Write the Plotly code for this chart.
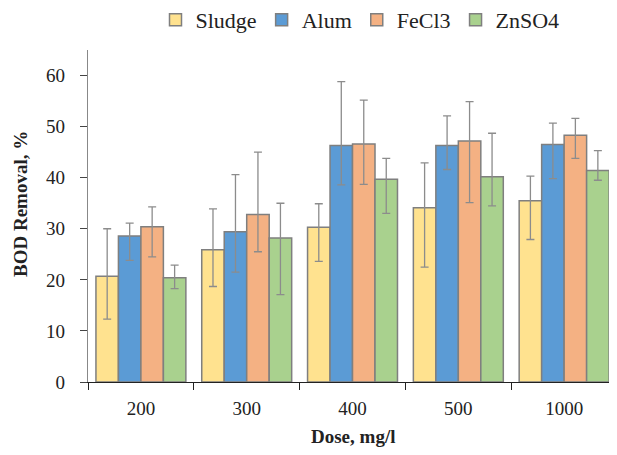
import plotly.graph_objects as go

categories = ["200", "300", "400", "500", "1000"]
series_names = ["Sludge", "Alum", "FeCl3", "ZnSO4"]
sludge = [20.7, 25.9, 30.3, 34.1, 35.5]
sludge_hi = [30.0, 33.9, 34.9, 42.9, 40.3]
sludge_lo = [12.3, 18.7, 23.6, 22.5, 27.9]
alum = [28.6, 29.4, 46.3, 46.3, 46.5]
alum_hi = [31.1, 40.6, 58.8, 52.1, 50.7]
alum_lo = [23.8, 21.5, 38.6, 41.6, 39.8]
fecl3 = [30.4, 32.8, 46.6, 47.2, 48.3]
fecl3_hi = [34.3, 45.0, 55.2, 54.9, 51.6]
fecl3_lo = [24.5, 25.5, 38.7, 35.1, 43.8]
znso4 = [20.4, 28.2, 39.7, 40.2, 41.4]
znso4_hi = [22.9, 35.0, 43.8, 48.7, 45.3]
znso4_lo = [18.3, 17.1, 33.0, 34.5, 39.5]

colors = ["#FFE28F", "#5B9BD5", "#F4B183", "#A9D18E"]
values = [sludge, alum, fecl3, znso4]
highs = [sludge_hi, alum_hi, fecl3_hi, znso4_hi]
lows = [sludge_lo, alum_lo, fecl3_lo, znso4_lo]

FONT = "Liberation Serif"
W, H = 601, 439
L, T, B, R = 80, 42, 65, 0
PW = W - L - R
PH = H - T - B

fig = go.Figure()
for name, v, hi, lo, c in zip(series_names, values, highs, lows, colors):
    fig.add_trace(go.Bar(
        x=categories, y=v, name=name,
        marker=dict(color=c, line=dict(color="#7F7F7F", width=1.5)),
        error_y=dict(type="data", symmetric=False,
                     array=[h - a for h, a in zip(hi, v)],
                     arrayminus=[a - l for a, l in zip(v, lo)],
                     color="#8C8C8C", thickness=1.3, width=4),
    ))

fig.add_annotation(
    text="<b>BOD Removal, %</b>", textangle=-90,
    xref="paper", yref="paper", x=(12 - L) / PW, y=(H - B - 196) / PH,
    xanchor="center", yanchor="middle", showarrow=False,
    font=dict(family=FONT, size=19, color="#222222"),
)
fig.add_annotation(
    text="<b>Dose, mg/l</b>",
    xref="paper", yref="paper", x=(345 - L) / PW, y=-(428 - (H - B)) / PH,
    xanchor="center", yanchor="middle", showarrow=False,
    font=dict(family=FONT, size=19, color="#222222"),
)

fig.update_layout(
    width=W, height=H,
    margin=dict(l=L, r=R, t=T, b=B),
    paper_bgcolor="white", plot_bgcolor="white",
    barmode="group", bargap=0.15, bargroupgap=0,
    font=dict(family=FONT, size=19, color="#222222"),
    showlegend=True,
    legend=dict(orientation="h", xref="container", yref="container",
                x=352 / W, xanchor="center", y=1 - 12 / H, yanchor="middle",
                font=dict(family=FONT, size=22), itemwidth=30, traceorder="normal"),
    xaxis=dict(type="category", tickson="boundaries", ticks="outside", ticklen=7,
               range=[-0.5, 4.424],
               tickcolor="#222222", showline=True, linecolor="#222222", linewidth=1.3,
               showgrid=False, automargin=False, ticklabelstandoff=9,
               tickfont=dict(family=FONT, size=19)),
    yaxis=dict(range=[0, 65], tickvals=[0, 10, 20, 30, 40, 50, 60], ticks="outside", ticklen=7,
               tickcolor="#444444", showline=True, linecolor="#888888", linewidth=1.3,
               showgrid=False, zeroline=False, automargin=False, ticklabelstandoff=11,
               tickfont=dict(family=FONT, size=19)),
)
fig.write_html("out.html")
